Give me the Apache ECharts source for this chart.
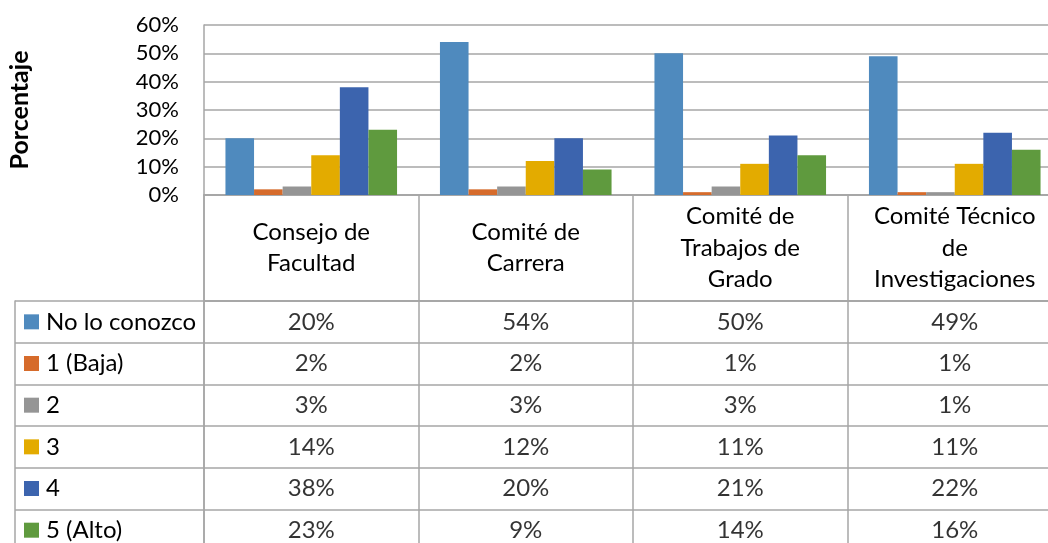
<!DOCTYPE html>
<html>
<head>
<meta charset="utf-8">
<script src="https://cdn.jsdelivr.net/npm/echarts@6/dist/echarts.min.js"></script>
<style>
  html, body { margin: 0; padding: 0; background: #fff; }
  #chart { width: 1048px; height: 543px; }
</style>
</head>
<body>
<div id="chart"></div>
<script>
// Bodies of the faculty and how well respondents know each one
const categories = ['Consejo de\nFacultad', 'Comité de\nCarrera', 'Comité de\nTrabajos de\nGrado', 'Comité Técnico\nde\nInvestigaciones'];
const seriesNames = ['No lo conozco', '1 (Baja)', '2', '3', '4', '5 (Alto)'];
const noLoConozco = [20, 54, 50, 49];
const nivel1 = [2, 2, 1, 1];
const nivel2 = [3, 3, 3, 1];
const nivel3 = [14, 12, 11, 11];
const nivel4 = [38, 20, 21, 22];
const nivel5 = [23, 9, 14, 16];
const yTicks = [0, 10, 20, 30, 40, 50, 60];

const seriesValues = [noLoConozco, nivel1, nivel2, nivel3, nivel4, nivel5];
const colors = ['#4f8abe', '#d66b2b', '#959595', '#e3ab00', '#3c64ae', '#5f9a3e'];
const lineColor = '#a6a6a6';
const font = 'Lato';
const fsAxis = 22;
const fsTable = 24;

const rich = { t: { fontFamily: font, fontSize: fsTable, color: '#000', padding: [0, 0, 0, 7] } };
colors.forEach((c, i) => {
  rich['s' + i] = { width: 15, height: 15, backgroundColor: c };
});

// the plot and table run a little past the right edge of the page
const plotLeft = 204, plotRight = -14, plotTop = 25, plotH = 170, headerH = 106, rowH = 41.67;

const chart = echarts.init(document.getElementById('chart'), null, { renderer: 'canvas' });

const barSeries = seriesNames.map((name, i) => ({
  name: name,
  type: 'bar',
  xAxisIndex: 0,
  yAxisIndex: 0,
  data: seriesValues[i],
  barGap: '0%',
  barCategoryGap: '20%',
  itemStyle: { color: colors[i] },
  silent: true
}));

// one text mark per table cell, placed on the table's category axes
const cellData = [];
seriesValues.forEach((vals, r) => {
  vals.forEach((v, c) => cellData.push([c, r, v]));
});

const gridBase = { left: plotLeft, right: plotRight, outerBoundsMode: 'none', containLabel: false };

const option = {
  animation: false,
  backgroundColor: '#fff',
  textStyle: { fontFamily: font },
  grid: [
    Object.assign({ top: plotTop, height: plotH }, gridBase),
    Object.assign({ top: plotTop + plotH, height: headerH, show: true, borderColor: lineColor, borderWidth: 1.5 }, gridBase),
    Object.assign({ top: plotTop + plotH + headerH, height: rowH * 6, show: true, borderColor: lineColor, borderWidth: 1.5 }, gridBase)
  ],
  xAxis: [
    {
      gridIndex: 0, type: 'category', data: categories,
      axisLine: { show: true, lineStyle: { color: lineColor, width: 1.5 } },
      axisTick: { show: false },
      axisLabel: {
        interval: 0, margin: headerH / 2, verticalAlign: 'middle', hideOverlap: false,
        fontFamily: font, fontSize: fsTable, color: '#000', lineHeight: 31.5, align: 'center'
      },
      splitLine: { show: false }
    },
    {
      gridIndex: 1, type: 'category', data: categories,
      axisLine: { show: false }, axisTick: { show: false }, axisLabel: { show: false },
      splitLine: { show: true, interval: 0, lineStyle: { color: lineColor, width: 1.5 } }
    },
    {
      gridIndex: 2, type: 'category', data: categories,
      axisLine: { show: false }, axisTick: { show: false }, axisLabel: { show: false },
      splitLine: { show: true, interval: 0, lineStyle: { color: lineColor, width: 1.5 } }
    }
  ],
  yAxis: [
    {
      gridIndex: 0, type: 'value', min: yTicks[0], max: yTicks[yTicks.length - 1], interval: 10,
      name: 'Porcentaje', nameLocation: 'middle', nameGap: 172, nameRotate: 90,
      nameTextStyle: { fontFamily: font, fontSize: 25, fontWeight: 'bold', color: '#000' },
      axisLine: { show: true, lineStyle: { color: lineColor, width: 1.5 } },
      axisTick: { show: false },
      axisLabel: { formatter: '{value}%', margin: 25, fontFamily: font, fontSize: fsAxis, color: '#000' },
      splitLine: { show: true, lineStyle: { color: lineColor, width: 1.5 } }
    },
    {
      gridIndex: 1, type: 'value', min: 0, max: 1,
      axisLine: { show: false }, axisTick: { show: false }, axisLabel: { show: false }, splitLine: { show: false }
    },
    {
      gridIndex: 2, type: 'category', data: seriesNames, inverse: true,
      axisLine: { show: false },
      axisTick: { show: true, interval: 0, length: plotLeft - 15, lineStyle: { color: lineColor, width: 1.5 } },
      axisLabel: {
        interval: 0, align: 'left', margin: plotLeft - 24,
        formatter: (val, idx) => '{s' + idx + '|}{t|' + val + '}',
        rich: rich
      },
      splitLine: { show: true, interval: 0, lineStyle: { color: lineColor, width: 1.5 } }
    },
    {
      gridIndex: 2, type: 'category', data: seriesNames, inverse: true, position: 'left', offset: plotLeft - 15,
      axisLine: { show: true, lineStyle: { color: lineColor, width: 1.5 } },
      axisTick: { show: false }, axisLabel: { show: false }, splitLine: { show: false }
    }
  ],
  series: barSeries.concat([{
    type: 'scatter',
    xAxisIndex: 2,
    yAxisIndex: 2,
    data: cellData,
    symbol: 'rect',
    symbolSize: 1,
    itemStyle: { color: 'rgba(0,0,0,0)' },
    silent: true,
    label: {
      show: true, position: 'inside',
      formatter: p => p.value[2] + '%',
      fontFamily: font, fontSize: fsTable, color: '#000'
    }
  }])
};

chart.setOption(option);
</script>
</body>
</html>
